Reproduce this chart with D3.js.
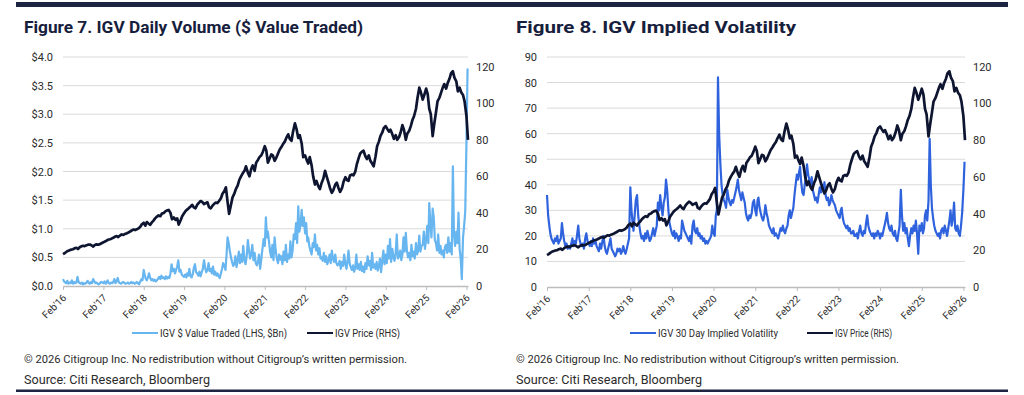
<!DOCTYPE html>
<html>
<head>
<meta charset="utf-8">
<script src="https://cdn.jsdelivr.net/npm/d3@7"></script>
<style>
body { margin: 0; background: #fff; }
svg text { font-family: Roboto, "Liberation Sans", sans-serif; }
</style>
</head>
<body>
<svg id="chart" width="1024" height="395"></svg>
<script>

// IGV price, two readings a month (1st, 15th), Feb 2016 -> Feb 2026
let priceValues = [
  17.4, 17.9, 18.6, 19.2, 19.6, 19.9, 20.1, 20.6, 20.9, 20.2, 21.2, 21.7, 22.0, 21.8, 22.3, 22.6, 22.7, 22.3, 21.6, 22.4, 22.8, 22.6,
  22.9, 23.4, 23.9, 24.4, 24.8, 25.3, 25.6, 25.9, 26.4, 26.9, 27.3, 26.8, 27.6, 28.2, 28.0, 28.5, 28.9, 29.3, 29.8, 30.4, 30.9, 30.6, 31.0, 31.5,
  32.4, 33.8, 34.6, 33.0, 35.0, 34.2, 33.5, 34.8, 35.8, 37.0, 38.0, 38.6, 38.2, 39.6, 40.0, 40.8, 41.4, 41.6, 40.0, 36.5, 37.5, 36.2, 37.0, 33.6,
  36.0, 38.2, 39.8, 41.0, 41.8, 42.5, 43.5, 44.4, 43.0, 42.5, 44.5, 45.5, 46.5, 46.0, 44.8, 45.3, 45.8, 43.2, 42.5, 43.8, 45.0, 45.6, 45.4, 46.5,
  48.0, 50.5, 52.0, 54.0, 46.0, 39.5, 44.5, 48.5, 50.5, 53.0, 55.0, 58.0, 60.0, 61.5, 63.0, 65.5, 62.0, 60.0, 64.0, 66.0, 63.0, 67.5, 69.0, 70.5,
  71.5, 73.5, 76.5, 74.0, 67.5, 69.5, 72.0, 71.5, 68.5, 70.0, 72.5, 74.5, 76.0, 77.5, 79.0, 81.0, 83.0, 80.5, 79.5, 84.5, 89.0, 86.0, 81.0, 82.5,
  78.0, 70.5, 71.5, 69.0, 67.0, 70.5, 66.0, 60.0, 55.5, 57.5, 54.5, 53.0, 56.5, 58.5, 63.0, 60.0, 56.5, 53.5, 51.0, 52.5, 55.5, 56.5, 53.5, 51.5,
  53.5, 57.0, 59.5, 58.0, 57.5, 60.5, 61.0, 60.5, 62.5, 66.5, 70.0, 72.5, 73.5, 74.0, 71.0, 69.5, 71.5, 68.5, 67.0, 65.5, 71.0, 76.5, 79.0, 82.0,
  84.0, 86.5, 87.5, 86.0, 84.5, 85.5, 83.0, 80.5, 82.5, 80.0, 81.5, 84.0, 88.0, 85.5, 80.0, 83.5, 85.0, 87.5, 91.0, 93.0, 97.0, 103.0, 108.5, 106.0,
  102.0, 104.5, 108.0, 105.0, 97.0, 94.0, 82.0, 88.5, 95.0, 101.0, 103.0, 105.5, 108.5, 110.5, 108.0, 111.0, 113.5, 116.5, 117.5, 114.0, 112.0, 106.5, 108.5, 106.0,
  104.5, 101.0, 93.0, 80.0
];

// IGV $ value traded ($Bn), three readings a month (1st, 11th, 21st)
let volumeValues = [
  0.12, 0.08, 0.06, 0.05, 0.09, 0.04, 0.06, 0.05, 0.10, 0.04, 0.07, 0.05, 0.06, 0.16, 0.07, 0.05, 0.04, 0.06, 0.03, 0.05, 0.04, 0.06, 0.09, 0.05, 0.04, 0.07, 0.05, 0.12, 0.08, 0.05, 0.06, 0.04, 0.03,
  0.05, 0.07, 0.06, 0.05, 0.08, 0.04, 0.06, 0.10, 0.05, 0.04, 0.06, 0.05, 0.07, 0.12, 0.05, 0.09, 0.14, 0.06, 0.05, 0.04, 0.06, 0.07, 0.05, 0.04, 0.05, 0.06, 0.04, 0.05, 0.07, 0.05, 0.06, 0.04, 0.05, 0.07, 0.05, 0.03,
  0.08, 0.12, 0.10, 0.28, 0.18, 0.12, 0.10, 0.15, 0.22, 0.14, 0.10, 0.12, 0.09, 0.11, 0.08, 0.10, 0.13, 0.16, 0.12, 0.18, 0.14, 0.15, 0.12, 0.17, 0.13, 0.16, 0.14, 0.22, 0.38, 0.26, 0.30, 0.22, 0.28, 0.34, 0.45, 0.25,
  0.28, 0.20, 0.18, 0.16, 0.20, 0.15, 0.22, 0.18, 0.30, 0.17, 0.15, 0.21, 0.32, 0.38, 0.24, 0.22, 0.18, 0.25, 0.17, 0.24, 0.30, 0.45, 0.32, 0.24, 0.28, 0.40, 0.26, 0.30, 0.22, 0.34, 0.20, 0.25, 0.18, 0.22, 0.17, 0.14,
  0.22, 0.30, 0.40, 0.35, 0.28, 0.55, 0.85, 0.75, 0.62, 0.50, 0.42, 0.35, 0.38, 0.52, 0.33, 0.45, 0.60, 0.40, 0.55, 0.42, 0.70, 0.45, 0.38, 0.52, 0.80, 0.62, 0.48, 0.55, 0.72, 0.45, 0.58, 0.40, 0.36, 0.42, 0.55, 0.30,
  0.48, 0.65, 0.82, 0.70, 1.20, 0.85, 0.95, 0.78, 0.60, 0.50, 0.72, 0.45, 0.85, 0.62, 0.48, 0.40, 0.55, 0.46, 0.52, 0.38, 0.60, 0.45, 0.72, 0.42, 0.55, 0.48, 0.78, 0.50, 0.62, 0.90, 0.82, 1.10, 0.75, 1.39, 0.95, 1.05,
  1.33, 1.05, 1.20, 0.92, 1.10, 0.78, 0.85, 0.70, 0.62, 0.55, 0.75, 0.68, 0.90, 0.62, 0.72, 0.55, 0.66, 0.48, 0.50, 0.44, 0.58, 0.42, 0.52, 0.38, 0.45, 0.55, 0.40, 0.62, 0.48, 0.42, 0.55, 0.40, 0.36, 0.38, 0.44, 0.30,
  0.42, 0.35, 0.55, 0.38, 0.30, 0.45, 0.62, 0.40, 0.33, 0.28, 0.36, 0.25, 0.32, 0.55, 0.30, 0.38, 0.28, 0.42, 0.26, 0.34, 0.24, 0.40, 0.30, 0.52, 0.36, 0.44, 0.28, 0.58, 0.32, 0.38, 0.30, 0.42, 0.27, 0.35, 0.48, 0.24,
  0.45, 0.62, 0.38, 0.55, 0.40, 0.70, 0.48, 0.82, 0.42, 0.65, 0.50, 0.44, 0.58, 0.90, 0.48, 0.52, 0.62, 0.45, 0.55, 0.85, 0.60, 0.93, 0.62, 0.50, 0.58, 0.45, 0.72, 0.52, 0.60, 0.48, 0.75, 0.55, 0.62, 0.88, 0.60, 0.70,
  0.72, 0.95, 0.65, 0.80, 1.05, 0.75, 1.45, 1.10, 0.85, 1.35, 1.20, 0.80, 0.75, 0.62, 0.90, 0.58, 0.70, 0.55, 0.62, 0.50, 0.68, 0.72, 0.58, 0.85, 0.60, 0.75, 0.55, 2.09, 0.90, 0.70, 0.95, 0.75, 1.28, 0.65, 0.48, 0.12,
  0.85, 1.05, 1.30, 2.50, 3.80
];

// IGV 30 day implied volatility, three readings a month (1st, 11th, 21st)
let ivValues = [
  36, 28, 24, 21, 19, 18, 17, 19, 18, 20, 17, 18, 19, 25, 21, 18, 16, 17, 15, 16, 15, 17, 19, 16, 18, 17, 20, 24, 19, 17, 16, 17, 15,
  19, 21, 18, 17, 16, 18, 16, 19, 17, 18, 16, 15, 14, 17, 15, 18, 20, 16, 14, 13, 15, 17, 19, 15, 14, 13, 12, 13, 15, 14, 15, 13, 14, 16, 14, 13,
  15, 17, 19, 39, 30, 25, 22, 28, 34, 36, 28, 24, 21, 19, 20, 18, 21, 19, 22, 20, 18, 19, 21, 23, 20, 22, 24, 33, 30, 36, 31, 28, 33, 35, 42, 38,
  30, 25, 23, 21, 20, 22, 19, 21, 20, 18, 20, 19, 26, 24, 22, 21, 20, 19, 18, 20, 17, 24, 26, 22, 21, 23, 20, 21, 19, 20, 18, 19, 17, 18, 17, 18,
  19, 20, 24, 21, 20, 28, 30, 82, 60, 48, 40, 36, 34, 33, 31, 38, 35, 33, 32, 34, 33, 35, 37, 39, 42, 38, 36, 34, 37, 35, 33, 29, 27, 26, 28, 27,
  29, 33, 34, 30, 28, 34, 35, 31, 29, 27, 26, 28, 32, 29, 27, 24, 23, 22, 21, 23, 20, 21, 20, 19, 21, 23, 22, 24, 22, 21, 23, 24, 28, 30, 27, 29,
  31, 36, 40, 44, 42, 45, 47, 41, 37, 36, 40, 43, 48, 44, 42, 40, 43, 38, 36, 34, 35, 33, 36, 39, 37, 40, 38, 41, 36, 34, 35, 32, 33, 36, 34, 33,
  32, 30, 29, 28, 27, 30, 31, 27, 25, 24, 23, 24, 22, 23, 21, 21, 22, 20, 20, 21, 19, 22, 24, 21, 20, 22, 21, 25, 28, 24, 22, 21, 20, 21, 19, 21,
  20, 22, 21, 19, 21, 20, 22, 24, 26, 29, 25, 23, 22, 24, 21, 20, 22, 19, 18, 21, 24, 38, 28, 22, 25, 21, 23, 19, 16, 20, 23, 21, 24, 22, 26, 21,
  13, 24, 22, 25, 21, 23, 28, 30, 26, 34, 58, 40, 31, 27, 24, 22, 21, 20, 21, 19, 22, 23, 21, 24, 22, 20, 23, 26, 30, 24, 27, 33, 23, 22, 24, 21,
  20, 24, 29, 38, 49
];

let tickYears = [2016, 2017, 2018, 2019, 2020, 2021, 2022, 2023, 2024, 2025, 2026];
let tickLabels = ["Feb'16", "Feb'17", "Feb'18", "Feb'19", "Feb'20", "Feb'21", "Feb'22", "Feb'23", "Feb'24", "Feb'25", "Feb'26"];
let volumeTicks = [0, 0.5, 1.0, 1.5, 2.0, 2.5, 3.0, 3.5, 4.0];
let ivTicks = [0, 10, 20, 30, 40, 50, 60, 70, 80, 90];
let priceTicks = [0, 20, 40, 60, 80, 100, 120];

// dates for the readings
function monthDates(n, days) {
  let out = [];
  for (let i = 0; i < n; i++) {
    let m = Math.floor(i / days.length);
    out.push(new Date(2016, 1 + m, days[i % days.length]));
  }
  return out;
}
let priceDates = monthDates(priceValues.length, [1, 15]);
let volumeDates = monthDates(volumeValues.length, [1, 11, 21]);
let ivDates = monthDates(ivValues.length, [1, 11, 21]);
let tickDates = tickYears.map(y => new Date(y, 1, 1));

let navy = "#0e1531";
let textGrey = "#2b2b2b";
let svg = d3.select("#chart");

// heavy rules top and bottom
svg.append("rect").attr("x", 16).attr("y", 2).attr("width", 992).attr("height", 5).style("fill", "#1c2541");
svg.append("rect").attr("x", 16).attr("y", 389.5).attr("width", 992).attr("height", 2.5).style("fill", "#1c2541");

function drawPanel(p) {
  let x = d3.scaleTime().domain([new Date(2016, 1, 1), new Date(2026, 1, 15)]).range([p.left, p.right]);
  let yL = d3.scaleLinear().domain([0, p.leftMax]).range([p.bottom, 57]);
  let yR = d3.scaleLinear().domain([0, 125.3]).range([p.bottom, 57]);

  //title
  svg.append("text")
  .attr("x", p.left - p.titleInset)
  .attr("y", 32.5)
  .attr("textLength", p.titleWidth)
  .attr("lengthAdjust", "spacingAndGlyphs")
  .style("font-size", "16.5px")
  .style("font-weight", "bold")
  .style("fill", "#16203d")
  .text(p.title);

  //gridlines
  svg.append("g")
  .selectAll("line")
  .data(p.leftTicks.slice(1))
  .join("line")
  .attr("x1", p.left)
  .attr("x2", p.right)
  .attr("y1", d => yL(d))
  .attr("y2", d => yL(d))
  .style("stroke", "#dadada")
  .style("stroke-width", 1);

  //left axis
  let gl = svg.append("g")
  .attr("transform", "translate(" + p.left + ",0)")
  .call(d3.axisLeft(yL).tickValues(p.leftTicks).tickFormat(p.leftFormat).tickSize(0).tickPadding(10));
  gl.select(".domain").remove();
  gl.selectAll("text").style("font-size", "11px").style("fill", textGrey);

  //right axis
  let gr = svg.append("g")
  .attr("transform", "translate(" + p.right + ",0)")
  .call(d3.axisRight(yR).tickValues(priceTicks).tickSize(0).tickPadding(8));
  gr.select(".domain").remove();
  gr.selectAll("text").style("font-size", "11px").style("fill", textGrey);

  //x axis
  let gx = svg.append("g")
  .attr("transform", "translate(0," + p.bottom + ")")
  .call(d3.axisBottom(x).tickValues(tickDates).tickFormat((d, i) => tickLabels[i]).tickSize(4).tickSizeOuter(0));
  gx.select(".domain").style("stroke", "#bdbdbd").style("stroke-width", 1.5);
  gx.selectAll(".tick line").style("stroke", "#bdbdbd");
  gx.selectAll("text")
  .attr("x", 0)
  .attr("y", 0)
  .attr("dy", "0.35em")
  .attr("transform", "translate(1,10) rotate(-45)")
  .style("text-anchor", "end")
  .style("font-size", "10px")
  .style("fill", textGrey);

  return { x: x, yL: yL, yR: yR };
}

function drawLine(sc, xs, values, yScale, color, width) {
  let line = d3.line()
  .x((d, i) => sc.x(xs[i]))
  .y(d => yScale(d));
  svg.append("path")
  .datum(values)
  .attr("d", line)
  .style("fill", "none")
  .style("stroke", color)
  .style("stroke-width", width)
  .style("stroke-linejoin", "round");
}

function legendItem(x, y, color, label, width) {
  svg.append("line")
  .attr("x1", x).attr("x2", x + 26)
  .attr("y1", y).attr("y2", y)
  .style("stroke", color)
  .style("stroke-width", 2);
  svg.append("text")
  .attr("x", x + 28)
  .attr("y", y)
  .attr("dy", "0.35em")
  .attr("textLength", width)
  .attr("lengthAdjust", "spacingAndGlyphs")
  .style("font-size", "10px")
  .style("fill", textGrey)
  .text(label);
}

function footer(x) {
  svg.append("text")
  .attr("x", x).attr("y", 362.5)
  .attr("textLength", 383)
  .attr("lengthAdjust", "spacingAndGlyphs")
  .style("font-size", "11.5px")
  .style("fill", textGrey)
  .text("© 2026 Citigroup Inc. No redistribution without Citigroup’s written permission.");
  svg.append("text")
  .attr("x", x).attr("y", 384)
  .attr("textLength", 186)
  .attr("lengthAdjust", "spacingAndGlyphs")
  .style("font-size", "13.5px")
  .style("fill", textGrey)
  .text("Source: Citi Research, Bloomberg");
}

///////////// Figure 7 //////////////
let left = drawPanel({
  left: 63, right: 468, bottom: 286, leftMax: 4.0,
  leftTicks: volumeTicks, leftFormat: d => "$" + d3.format(".1f")(d),
  title: "Figure 7. IGV Daily Volume ($ Value Traded)", titleInset: 39, titleWidth: 339
});
drawLine(left, volumeDates, volumeValues, left.yL, "#68b6f0", 2.2);
drawLine(left, priceDates, priceValues, left.yR, navy, 2.7);
legendItem(132, 333, "#68b6f0", "IGV $ Value Traded (LHS, $Bn)", 127);
legendItem(307, 333, navy, "IGV Price (RHS)", 65);
footer(24);

///////////// Figure 8 //////////////
let right = drawPanel({
  left: 547, right: 965, bottom: 287, leftMax: 90,
  leftTicks: ivTicks, leftFormat: d => d,
  title: "Figure 8. IGV Implied Volatility", titleInset: 31, titleWidth: 280
});
drawLine(right, ivDates, ivValues, right.yL, "#2f63de", 2.2);
drawLine(right, priceDates, priceValues, right.yR, navy, 2.7);
legendItem(630, 333, "#2f63de", "IGV 30 Day Implied Volatility", 120);
legendItem(807, 333, navy, "IGV Price (RHS)", 57);
footer(516);

</script>
</body>
</html>
